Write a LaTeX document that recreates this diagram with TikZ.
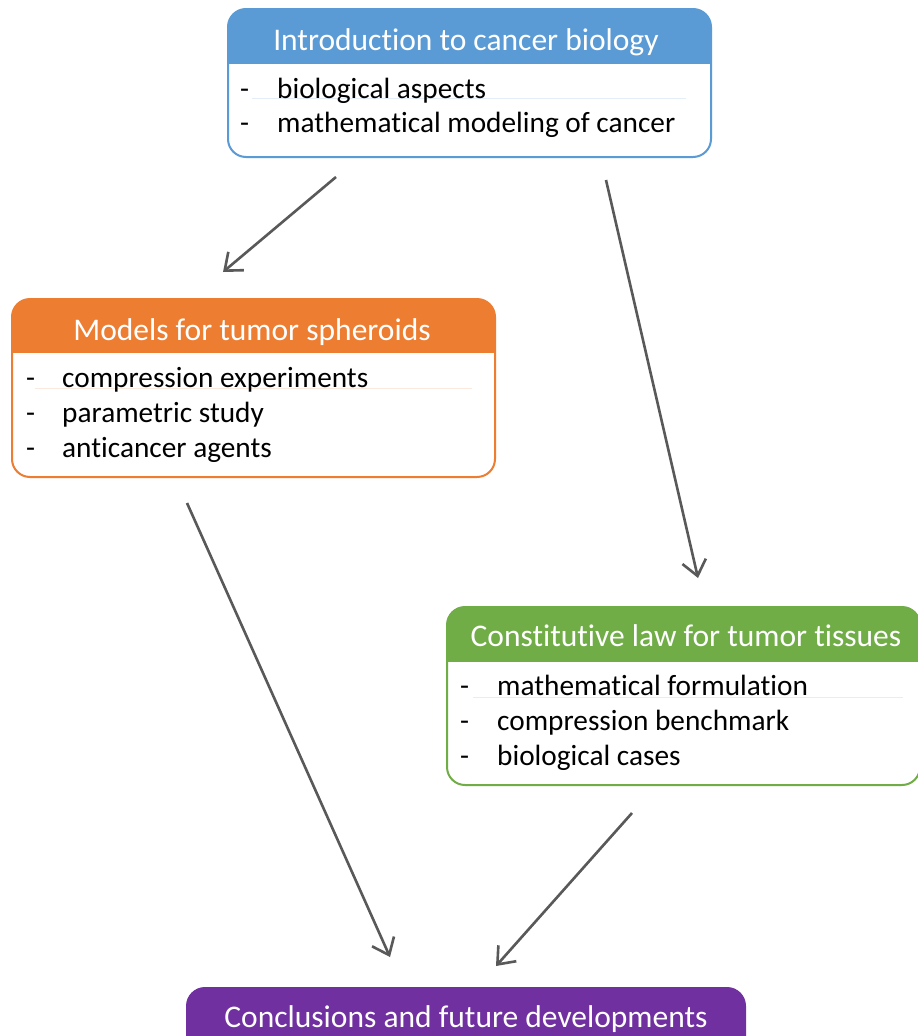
\documentclass[tikz,border=0pt]{standalone}
\usepackage{fontspec}
\setmainfont{Carlito}[Ligatures={NoCommon}]
\usetikzlibrary{arrows.meta,calc}
\definecolor{cblue}{HTML}{5B9BD5}
\definecolor{corange}{HTML}{ED7D31}
\definecolor{cgreen}{HTML}{70AD47}
\definecolor{cpurple}{HTML}{7030A0}
\definecolor{arrowgray}{HTML}{595959}
\definecolor{sepblue}{HTML}{E4EEF8}
\definecolor{seporange}{HTML}{FCE9DE}
\definecolor{sepgreen}{HTML}{E6F1DF}
\tikzset{
  boxshape/.style={rectangle, inner sep=0pt, outer sep=0pt},
  headtext/.style={text=white, font=\fontsize{31.5}{36}\selectfont, anchor=base, inner sep=0pt},
  itemtext/.style={text=black, font=\fontsize{29.3}{34}\selectfont, anchor=base west, inner sep=0pt},
  flowarrow/.style={draw=arrowgray, line width=2.6pt, -{Straight Barb[length=15pt,width=24pt,line width=2.6pt]}},
  sepline/.style={line width=0.8pt}
}
\newcommand\tumorbox[7]{%
  \node[boxshape, minimum width=#4pt, minimum height=#5pt, anchor=north west] (#1) at (#2,#3) {};
  \begin{scope}
    \clip[rounded corners=18pt] (#1.north west) rectangle (#1.south east);
    \fill[#7] (#1.north west) rectangle ([yshift=-#6pt]#1.north east);
  \end{scope}
  \draw[#7, line width=2pt, rounded corners=18pt] (#1.north west) rectangle (#1.south east);
}
\begin{document}
\begin{tikzpicture}[x=1pt,y=-1pt]
\clip (0,0) rectangle (918,1036);
\fill[white] (0,0) rectangle (918,1036);

% Introduction box
\tumorbox{intro}{228}{9}{483}{148}{55}{cblue}
\draw[sepblue, sepline] (252,98) -- (686,98);
\node[headtext] (introtitle) at (466,50) {Introduction to cancer biology};
\node[itemtext] (introd1) at (240,98) {-};
\node[itemtext] (introi1) at (277,98) {biological aspects};
\node[itemtext] (introd2) at (240,132) {-};
\node[itemtext] (introi2) at (277,132) {mathematical modeling of cancer};

% Models box
\tumorbox{models}{12}{299}{483}{178}{54}{corange}
\draw[seporange, sepline] (35,388) -- (472,388);
\node[headtext] (modelstitle) at (252,340) {Models for tumor spheroids};
\node[itemtext] (modelsd1) at (26,387) {-};
\node[itemtext] (modelsi1) at (62,387) {compression experiments};
\node[itemtext] (modelsd2) at (26,422) {-};
\node[itemtext] (modelsi2) at (62,422) {parametric study};
\node[itemtext] (modelsd3) at (26,457) {-};
\node[itemtext] (modelsi3) at (62,457) {anticancer agents};

% Constitutive law box
\tumorbox{law}{447}{607}{473}{178}{55}{cgreen}
\draw[sepgreen, sepline] (473,697) -- (903,697);
\node[headtext] (lawtitle) at (686,646) {Constitutive law for tumor tissues};
\node[itemtext] (lawd1) at (460,695) {-};
\node[itemtext] (lawi1) at (497,695) {mathematical formulation};
\node[itemtext] (lawd2) at (460,730) {-};
\node[itemtext] (lawi2) at (497,730) {compression benchmark};
\node[itemtext] (lawd3) at (460,765) {-};
\node[itemtext] (lawi3) at (497,765) {biological cases};

% Conclusions box
\tumorbox{concl}{187}{988}{558}{120}{120}{cpurple}
\node[headtext] (concltitle) at (466,1027) {Conclusions and future developments};

% Arrows
\coordinate (a1s) at (336,177);
\coordinate (a1e) at (223,272);
\coordinate (a2s) at (606,180);
\coordinate (a2e) at (698,578);
\coordinate (a3s) at (187,503);
\coordinate (a3e) at (390,957);
\coordinate (a4s) at (632,813);
\coordinate (a4e) at (496,966);
\draw[flowarrow] (a1s) -- (a1e);
\draw[flowarrow] (a2s) -- (a2e);
\draw[flowarrow] (a3s) -- (a3e);
\draw[flowarrow] (a4s) -- (a4e);
\end{tikzpicture}
\end{document}
